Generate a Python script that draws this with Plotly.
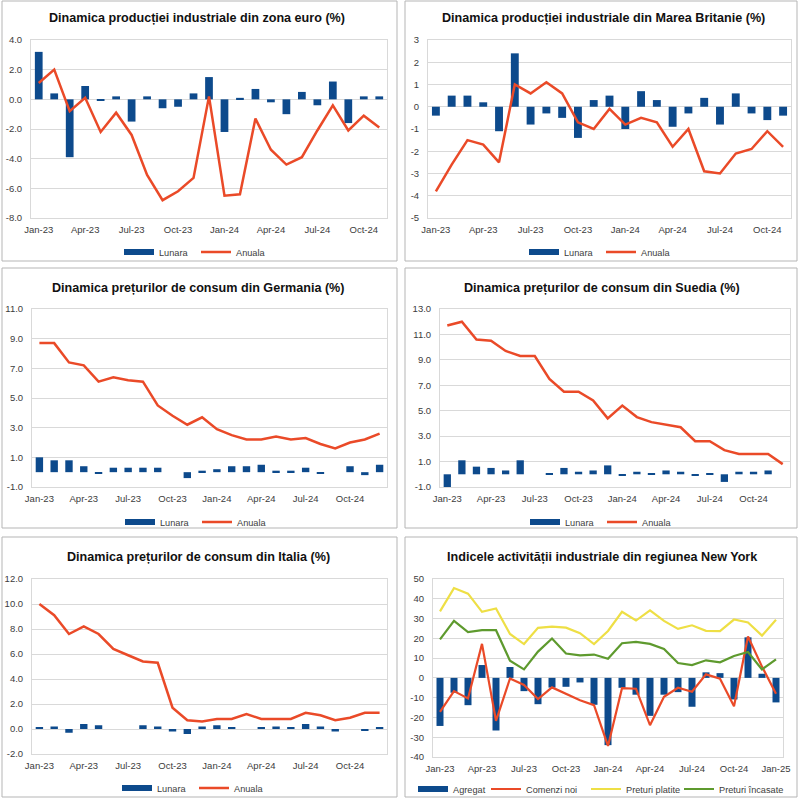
import plotly.graph_objects as go

# ---------------- data ----------------
MONTHS = ["Jan-23", "Feb-23", "Mar-23", "Apr-23", "May-23", "Jun-23", "Jul-23", "Aug-23",
          "Sep-23", "Oct-23", "Nov-23", "Dec-23", "Jan-24", "Feb-24", "Mar-24", "Apr-24",
          "May-24", "Jun-24", "Jul-24", "Aug-24", "Sep-24", "Oct-24", "Nov-24", "Dec-24", "Jan-25"]

ez_lunara = [3.2, 0.4, -3.9, 0.9, -0.1, 0.2, -1.5, 0.2, -0.6, -0.5, 0.4, 1.5,
             -2.2, 0.1, 0.7, -0.2, -1.0, 0.5, -0.4, 1.2, -1.6, 0.2, 0.2]
ez_anuala = [1.1, 2.0, -0.8, 0.1, -2.2, -0.9, -2.4, -5.1, -6.8, -6.2, -5.3, 0.2,
             -6.5, -6.4, -1.3, -3.4, -4.4, -3.9, -2.1, -0.4, -2.1, -1.1, -1.9]

uk_lunara = [-0.4, 0.5, 0.5, 0.2, -1.1, 2.4, -0.8, -0.3, -0.5, -1.4, 0.3, 0.5,
             -1.0, 0.7, 0.3, -0.9, -0.3, 0.4, -0.8, 0.6, -0.3, -0.6, -0.4]
uk_anuala = [-3.8, -2.6, -1.5, -1.7, -2.5, 1.0, 0.6, 1.1, 0.6, -0.7, -1.0, -0.1,
             -0.8, -0.5, -0.7, -1.8, -1.0, -2.9, -3.0, -2.1, -1.9, -1.1, -1.8]

de_lunara = [1.0, 0.8, 0.8, 0.4, -0.1, 0.3, 0.3, 0.3, 0.3, 0.0, -0.4, 0.1,
             0.2, 0.4, 0.4, 0.5, 0.1, 0.1, 0.3, -0.1, 0.0, 0.4, -0.2, 0.5]
de_anuala = [8.7, 8.7, 7.4, 7.2, 6.1, 6.4, 6.2, 6.1, 4.5, 3.8, 3.2, 3.7,
             2.9, 2.5, 2.2, 2.2, 2.4, 2.2, 2.3, 1.9, 1.6, 2.0, 2.2, 2.6]

se_lunara = [-1.0, 1.1, 0.6, 0.5, 0.3, 1.1, 0.0, 0.1, 0.5, 0.2, 0.3, 0.7,
             -0.1, 0.2, 0.1, 0.3, 0.2, -0.1, 0.1, -0.6, 0.2, 0.2, 0.3, 0.0]
se_anuala = [11.7, 12.0, 10.6, 10.5, 9.7, 9.3, 9.3, 7.5, 6.5, 6.5, 5.8, 4.4,
             5.4, 4.5, 4.1, 3.9, 3.7, 2.6, 2.6, 1.9, 1.6, 1.6, 1.6, 0.8]

it_lunara = [0.1, 0.2, -0.3, 0.4, 0.3, 0.0, 0.0, 0.3, 0.2, -0.2, -0.4, 0.2,
             0.3, 0.1, 0.0, 0.1, 0.2, 0.1, 0.4, 0.2, -0.2, 0.0, -0.1, 0.1]
it_anuala = [10.0, 9.1, 7.6, 8.2, 7.6, 6.4, 5.9, 5.4, 5.3, 1.7, 0.7, 0.6,
             0.8, 0.8, 1.2, 0.8, 0.8, 0.8, 1.3, 1.1, 0.7, 0.9, 1.3, 1.3]

ny_agregat = [-24.3, -7.5, -13.8, 6.5, -26.6, 5.5, -6.7, -13.3, -4.9, -4.5, -2.3, -13.6,
              -34.0, -5.0, -8.5, -19.2, -8.5, -7.2, -14.6, 2.8, 2.4, -10.9, 20.5, 2.1, -12.4]
ny_comenzi = [-17.2, -6.7, -10.4, 17.2, -21.7, -0.3, -3.6, -10.7, -4.8, -8.2, -11.3, -13.8,
              -34.4, -5.2, -5.5, -23.9, -9.6, -5.0, -7.0, 1.8, -0.4, -14.3, 20.9, 5.7, -8.0]
ny_platite = [33.6, 45.4, 42.6, 33.4, 35.1, 22.2, 17.1, 25.3, 25.9, 25.4, 22.6, 17.1,
              23.7, 33.4, 29.0, 34.1, 28.8, 24.8, 26.6, 23.8, 23.6, 29.5, 28.0, 21.4, 29.4]
ny_incasate = [19.5, 28.8, 23.2, 24.1, 24.1, 8.7, 4.3, 13.3, 19.9, 12.3, 11.4, 11.8,
               9.7, 17.5, 18.2, 17.2, 14.6, 7.5, 6.5, 8.9, 7.9, 11.1, 13.1, 4.3, 9.4]

TITLES = ["Dinamica producției industriale din zona euro (%)",
          "Dinamica producției industriale din Marea Britanie (%)",
          "Dinamica prețurilor de consum din Germania (%)",
          "Dinamica prețurilor de consum din Suedia (%)",
          "Dinamica prețurilor de consum din Italia (%)",
          "Indicele activității industriale din regiunea New York"]

LBL_LUNARA = "Lunara"
LBL_ANUALA = "Anuala"
NY_LABELS = ["Agregat", "Comenzi noi", "Preturi platite", "Preturi încasate"]

# ---------------- styling ----------------
W, H = 800, 799
BLUE = "#0D4A8C"
RED = "#EA4A28"
YELLOW = "#EEDF45"
GREEN = "#5E9A2E"
GRID = "#D9D9D9"
TXT = "#3C3C3C"
TICKFONT = dict(family="Liberation Sans, Arial, sans-serif", size=9.5, color=TXT)
LEGFONT = dict(family="Liberation Sans, Arial, sans-serif", size=9.2, color=TXT)
TITLEFONT = dict(family="Liberation Sans, Arial, sans-serif", size=12.6, color="#111111")


def px_x(v):
    return v / W


def px_y(v):
    return 1 - v / H


# panel layout in px: plot area, frame, title position, legend text starts + y, y axis setup
panels = [
    dict(plot=(31, 387, 40, 218), frame=(2, 397, 1, 261), title=(197, 18),
         leg=([165, 242], 252), yr=(-8, 4), ydt=2, yfmt="{:.1f}"),
    dict(plot=(428, 791, 40, 218), frame=(405, 797, 1, 261), title=(603, 18),
         leg=([570, 647], 252), yr=(-5, 3), ydt=1, yfmt="{:.0f}"),
    dict(plot=(32, 387, 309, 487), frame=(2, 397, 268, 528), title=(198, 288),
         leg=([166, 243], 522), yr=(-1, 11), ydt=2, yfmt="{:.1f}"),
    dict(plot=(440, 790, 309, 487), frame=(405, 797, 268, 528), title=(602, 288),
         leg=([571, 648], 522), yr=(-1, 13), ydt=2, yfmt="{:.1f}"),
    dict(plot=(32, 387, 579, 754), frame=(2, 397, 537, 797), title=(198, 557),
         leg=([163, 240], 788), yr=(-2, 12), ydt=2, yfmt="{:.1f}"),
    dict(plot=(433, 783, 579, 757), frame=(405, 797, 537, 797), title=(602, 557),
         leg=([459, 532, 632, 725], 789), yr=(-40, 50), ydt=10, yfmt="{:.0f}"),
]

series_pairs = [(ez_lunara, ez_anuala), (uk_lunara, uk_anuala), (de_lunara, de_anuala),
                (se_lunara, se_anuala), (it_lunara, it_anuala)]

fig = go.Figure()
layout = dict(width=W, height=H, margin=dict(l=0, r=0, t=0, b=0, pad=0, autoexpand=False),
              paper_bgcolor="white", plot_bgcolor="white", showlegend=True,
              barmode="overlay", shapes=[], annotations=[])

leg_counter = [0]


def new_legend(text_x, y):
    leg_counter[0] += 1
    k = leg_counter[0]
    name = "legend" if k == 1 else f"legend{k}"
    layout[name] = dict(orientation="h", x=px_x(text_x - 46), xanchor="left",
                        y=px_y(y), yanchor="middle", font=LEGFONT,
                        bgcolor="rgba(0,0,0,0)", itemwidth=30, borderwidth=0)
    return name


for i, p in enumerate(panels):
    n = i + 1
    xa = "x" if n == 1 else f"x{n}"
    ya = "y" if n == 1 else f"y{n}"
    tx_list, ly = p["leg"]

    if n <= 5:
        lun, anu = series_pairs[i]
        cats = MONTHS[:len(lun)]
        bar_items = [(lun, LBL_LUNARA)]
        line_items = [(anu, LBL_ANUALA, RED, 2.5)]
    else:
        cats = MONTHS[:len(ny_agregat)]
        bar_items = [(ny_agregat, NY_LABELS[0])]
        line_items = [(ny_comenzi, NY_LABELS[1], RED, 2.2),
                      (ny_platite, NY_LABELS[2], YELLOW, 2.2),
                      (ny_incasate, NY_LABELS[3], GREEN, 2.2)]

    # bars (legend entry drawn as a thick line swatch, like the reference)
    for vals, label in bar_items:
        fig.add_trace(go.Bar(x=cats, y=vals, name=label, marker_color=BLUE, width=0.5,
                             marker_line_width=0, xaxis=xa, yaxis=ya, showlegend=False))
        lg = new_legend(tx_list[0], ly)
        fig.add_trace(go.Scatter(x=[None], y=[None], name=label, mode="lines",
                                 line=dict(color=BLUE, width=6), xaxis=xa, yaxis=ya,
                                 legend=lg, hoverinfo="skip"))
    for j, (vals, label, col, lw) in enumerate(line_items):
        lg = new_legend(tx_list[j + 1], ly)
        fig.add_trace(go.Scatter(x=cats, y=vals, name=label, mode="lines",
                                 line=dict(color=col, width=lw), xaxis=xa, yaxis=ya, legend=lg))

    x0, x1, yt, yb = p["plot"]
    lo, hi = p["yr"]
    yv = [lo + k * p["ydt"] for k in range(int(round((hi - lo) / p["ydt"])) + 1)]
    yt_text = [p["yfmt"].format(v) for v in yv]

    layout["xaxis" if n == 1 else f"xaxis{n}"] = dict(
        domain=[px_x(x0), px_x(x1)], anchor=ya, type="category",
        range=[-0.5, len(cats) - 0.5], automargin=False,
        tickvals=cats[::3], ticktext=cats[::3], tickangle=0,
        showgrid=False, zeroline=False, showline=True, mirror=True, linecolor=GRID, linewidth=1,
        ticks="outside", ticklen=3, tickcolor="rgba(0,0,0,0)", tickfont=TICKFONT, fixedrange=True)
    layout["yaxis" if n == 1 else f"yaxis{n}"] = dict(
        domain=[px_y(yb), px_y(yt)], anchor=xa, range=[lo, hi], automargin=False,
        tickvals=yv, ticktext=yt_text, showgrid=True, gridcolor=GRID, gridwidth=1,
        zeroline=False, showline=True, mirror=True, linecolor=GRID, linewidth=1,
        ticks="outside", ticklen=6, tickcolor="rgba(0,0,0,0)", tickfont=TICKFONT, fixedrange=True)

    fx0, fx1, fy0, fy1 = p["frame"]
    layout["shapes"].append(dict(type="rect", xref="paper", yref="paper",
                                 x0=px_x(fx0), x1=px_x(fx1), y0=px_y(fy1), y1=px_y(fy0),
                                 line=dict(color="#B5B5B5", width=1), layer="below"))
    tx, ty = p["title"]
    layout["annotations"].append(dict(text="<b>" + TITLES[i] + "</b>", xref="paper", yref="paper",
                                      x=px_x(tx), y=px_y(ty), xanchor="center", yanchor="middle",
                                      showarrow=False, font=TITLEFONT))

fig.update_layout(**layout)
fig.write_html("out.html", config={"displayModeBar": False},
               post_script="document.body.style.margin='0';document.body.style.overflow='hidden';")
